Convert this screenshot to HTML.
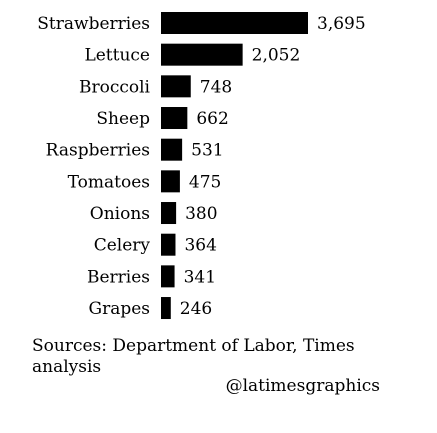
<!DOCTYPE html>
<html><head><meta charset="utf-8"><style>
html,body{margin:0;padding:0;background:#fff;width:437px;height:433px;overflow:hidden}
svg text{font-family:"DejaVu Serif","Liberation Serif",serif;font-size:17px;fill:#000}
</style></head><body>
<svg width="437" height="433" id="chart">
<g id="bars"></g>
<text x="32" y="351">Sources: Department of Labor, Times</text>
<text x="32" y="372">analysis</text>
<text x="380" y="391" text-anchor="end">@latimesgraphics</text>
</svg>
<script>
const categories=["Strawberries","Lettuce","Broccoli","Sheep","Raspberries","Tomatoes","Onions","Celery","Berries","Grapes"];
const values=[3695,2052,748,662,531,475,380,364,341,246];
const valueLabels=["3,695","2,052","748","662","531","475","380","364","341","246"];
const x0=161,scale=147/3695,y0=23,step=31.67,bh=22;
const xs=v=>v*scale, ys=i=>y0+i*step;
const g=document.getElementById('bars'),ns="http://www.w3.org/2000/svg";
categories.forEach((c,i)=>{
  const cy=ys(i);
  const t=document.createElementNS(ns,'text');
  t.setAttribute('x',150);t.setAttribute('y',cy+6);t.setAttribute('text-anchor','end');t.textContent=c;
  
  
  g.appendChild(t);
  const r=document.createElementNS(ns,'rect');
  r.setAttribute('x',x0);r.setAttribute('y',cy-bh/2);r.setAttribute('width',xs(values[i]));r.setAttribute('height',bh);r.setAttribute('fill','#000');
  
  
  g.appendChild(r);
  const v=document.createElementNS(ns,'text');
  v.setAttribute('x',x0+xs(values[i])+9);v.setAttribute('y',cy+6);v.textContent=valueLabels[i];
  
  
  g.appendChild(v);
});
</script>
</body></html>
